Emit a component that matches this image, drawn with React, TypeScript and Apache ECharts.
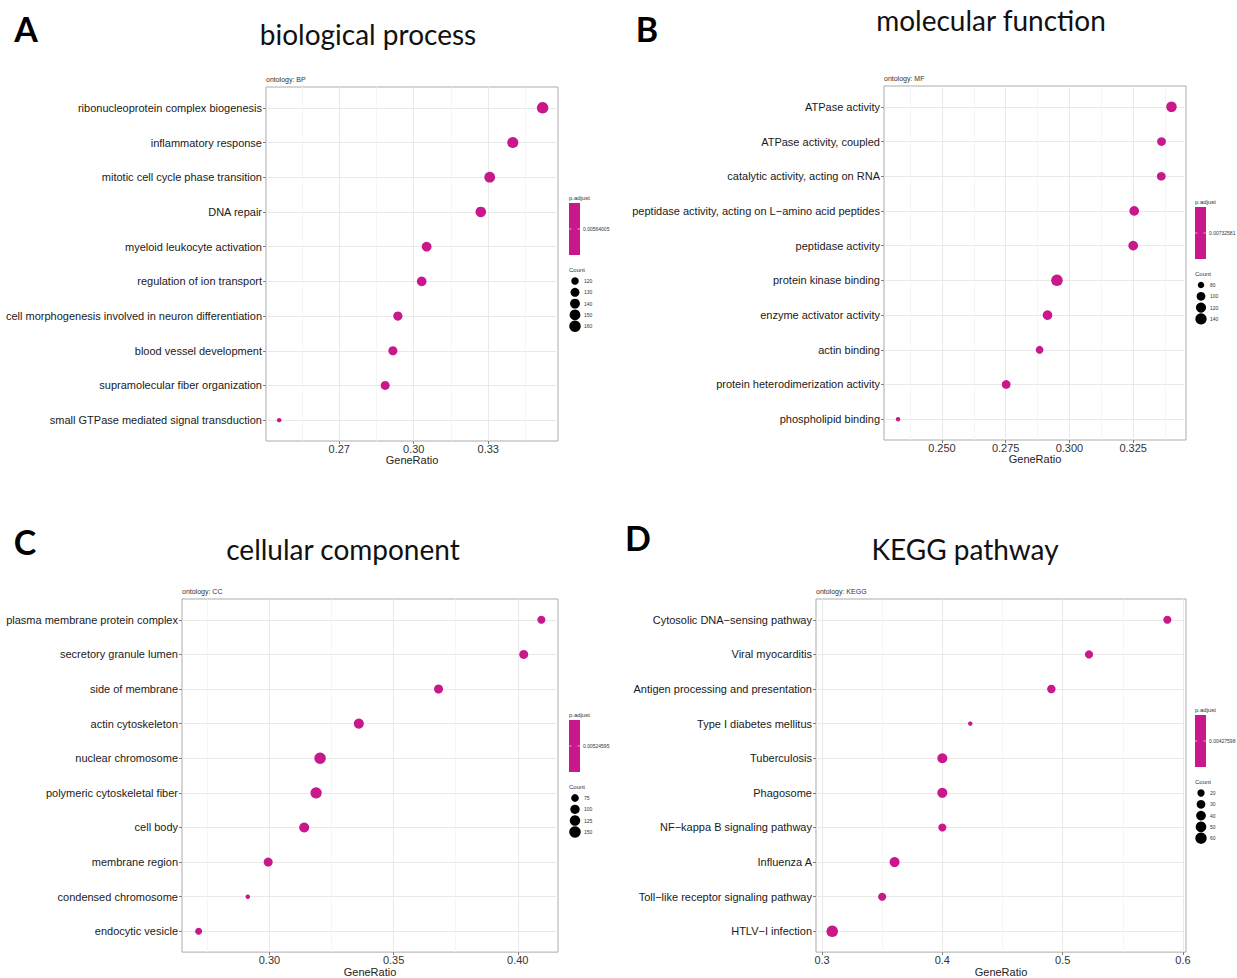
import React, { useEffect, useRef } from 'react';
import * as echarts from 'echarts';

// ---------- data ----------
const bpTerms = [
  'ribonucleoprotein complex biogenesis',
  'inflammatory response',
  'mitotic cell cycle phase transition',
  'DNA repair',
  'myeloid leukocyte activation',
  'regulation of ion transport',
  'cell morphogenesis involved in neuron differentiation',
  'blood vessel development',
  'supramolecular fiber organization',
  'small GTPase mediated signal transduction',
];
const bpRatio = [0.3519, 0.3399, 0.3306, 0.3270, 0.3052, 0.3032, 0.2936, 0.2916, 0.2885, 0.2458];
const bpCount = [160, 154, 150, 148, 139, 138, 133, 132, 131, 111];
const bpCountBreaks = [120, 130, 140, 150, 160];
const bpTicks = [0.27, 0.30, 0.33];

const mfTerms = [
  'ATPase activity',
  'ATPase activity, coupled',
  'catalytic activity, acting on RNA',
  'peptidase activity, acting on L\u2212amino acid peptides',
  'peptidase activity',
  'protein kinase binding',
  'enzyme activator activity',
  'actin binding',
  'protein heterodimerization activity',
  'phospholipid binding',
];
const mfRatio = [0.3400, 0.3361, 0.3360, 0.3254, 0.3250, 0.2951, 0.2914, 0.2883, 0.2752, 0.2328];
const mfCount = [128, 100, 100, 113, 113, 146, 113, 90, 100, 74];
const mfCountBreaks = [80, 100, 120, 140];
const mfTicks = [0.25, 0.275, 0.3, 0.325];

const ccTerms = [
  'plasma membrane protein complex',
  'secretory granule lumen',
  'side of membrane',
  'actin cytoskeleton',
  'nuclear chromosome',
  'polymeric cytoskeletal fiber',
  'cell body',
  'membrane region',
  'condensed chromosome',
  'endocytic vesicle',
];
const ccRatio = [0.4095, 0.4024, 0.3681, 0.3360, 0.3204, 0.3188, 0.3140, 0.2995, 0.2913, 0.2715];
const ccCount = [79, 94, 94, 114, 150, 143, 114, 94, 55, 67];
const ccCountBreaks = [75, 100, 125, 150];
const ccTicks = [0.30, 0.35, 0.40];

const keggTerms = [
  'Cytosolic DNA\u2212sensing pathway',
  'Viral myocarditis',
  'Antigen processing and presentation',
  'Type I diabetes mellitus',
  'Tuberculosis',
  'Phagosome',
  'NF\u2212kappa B signaling pathway',
  'Influenza A',
  'Toll\u2212like receptor signaling pathway',
  'HTLV\u2212I infection',
];
const keggRatio = [0.5870, 0.5219, 0.4906, 0.4232, 0.4000, 0.4000, 0.4000, 0.3603, 0.3500, 0.3085];
const keggCount = [25, 25, 28, 12, 43, 43, 25, 43, 25, 62];
const keggCountBreaks = [20, 30, 40, 50, 60];
const keggTicks = [0.3, 0.4, 0.5, 0.6];

const padjLabels = ['0.00564005', '0.00732581', '0.00524595', '0.00427598'];

// ---------- styling / layout ----------
const COLOR = '#C8188C';
const FONT = '"Liberation Sans", Arial, Helvetica, sans-serif';
const TITLE_FONT = 'Lato, "Open Sans", sans-serif';

const panels = [
  {
    letter: 'A', title: 'biological process', ontology: 'ontology: BP',
    terms: bpTerms, ratio: bpRatio, count: bpCount, breaks: bpCountBreaks, ticks: bpTicks,
    xMin: 0.2405, xMax: 0.3581, dec: 2,
    grid: { left: 266, top: 87, width: 292, height: 354 },
    titlePos: [368, 34], letterPos: [26, 28], legend: [569, 198], padj: padjLabels[0],
  },
  {
    letter: 'B', title: 'molecular function', ontology: 'ontology: MF',
    terms: mfTerms, ratio: mfRatio, count: mfCount, breaks: mfCountBreaks, ticks: mfTicks,
    xMin: 0.2273, xMax: 0.3457, dec: 3,
    grid: { left: 884, top: 86, width: 302, height: 354 },
    titlePos: [991, 20], letterPos: [647, 28], legend: [1195, 202], padj: padjLabels[1],
  },
  {
    letter: 'C', title: 'cellular component', ontology: 'ontology: CC',
    terms: ccTerms, ratio: ccRatio, count: ccCount, breaks: ccCountBreaks, ticks: ccTicks,
    xMin: 0.2648, xMax: 0.4162, dec: 2,
    grid: { left: 182, top: 599, width: 376, height: 354 },
    titlePos: [343, 549], letterPos: [25, 541], legend: [569, 715], padj: padjLabels[2],
  },
  {
    letter: 'D', title: 'KEGG pathway', ontology: 'ontology: KEGG',
    terms: keggTerms, ratio: keggRatio, count: keggCount, breaks: keggCountBreaks, ticks: keggTicks,
    xMin: 0.295, xMax: 0.6025, dec: 1,
    grid: { left: 816, top: 599, width: 370, height: 354 },
    titlePos: [965, 549], letterPos: [638, 537], legend: [1195, 710], padj: padjLabels[3],
  },
];

function makeSizeFn(counts: number[]) {
  const cmin = Math.min(...counts);
  const cmax = Math.max(...counts);
  return (c: number) => {
    const t = Math.max(0, Math.min(1, (c - cmin) / (cmax - cmin)));
    return 4.5 + 7 * Math.sqrt(t);
  };
}

// minor grid positions: half-way between the major ticks, extended over the range
function minorValues(ticks: number[], lo: number, hi: number) {
  const step = ticks[1] - ticks[0];
  const out: number[] = [];
  for (let k = -5; k < ticks.length + 5; k++) {
    const v = +(ticks[0] - step / 2 + k * step).toFixed(6);
    if (v > lo && v < hi) out.push(v);
  }
  return out;
}

function buildOption() {
  const grid: any[] = [];
  const xAxis: any[] = [];
  const yAxis: any[] = [];
  const series: any[] = [];
  const graphic: any[] = [];

  panels.forEach((p, i) => {
    const sizeFn = makeSizeFn(p.count);
    grid.push({
      ...p.grid,
      show: true,
      borderColor: '#ababab',
      borderWidth: 1,
      backgroundColor: '#ffffff',
      containLabel: false,
    });
    // main x axis (major grid, ticks, labels)
    xAxis.push({
      gridIndex: i,
      type: 'value',
      position: 'bottom',
      min: p.xMin,
      max: p.xMax,
      axisLine: { show: false, onZero: false },
      axisTick: { show: true, customValues: p.ticks, length: 3, lineStyle: { color: '#7f7f7f' } },
      axisLabel: {
        customValues: p.ticks,
        formatter: (v: number) => v.toFixed(p.dec),
        fontSize: 11, color: '#333', fontFamily: FONT, margin: 2,
      },
      splitLine: { show: true, lineStyle: { color: '#e9e9e9', width: 1 } },
      name: 'GeneRatio',
      nameLocation: 'middle',
      nameGap: 11,
      nameTextStyle: { fontSize: 11, color: '#222', fontFamily: FONT },
      z: 1,
    });
    yAxis.push({
      gridIndex: i,
      type: 'value',
      min: -0.6,
      max: 9.6,
      inverse: true,
      minInterval: 1,
      maxInterval: 1,
      axisLine: { show: false, onZero: false },
      axisTick: { show: true, customValues: p.terms.map((_, k) => k), length: 3, lineStyle: { color: '#7f7f7f' } },
      axisLabel: {
        customValues: p.terms.map((_, k) => k),
        formatter: (v: number) => {
          const k = Math.round(v);
          return Math.abs(v - k) < 1e-6 && p.terms[k] ? p.terms[k] : '';
        },
        fontSize: 11, color: '#1a1a1a', fontFamily: FONT, margin: 4,
      },
      splitLine: { show: true, lineStyle: { color: '#e9e9e9', width: 1 } },
    });
    series.push({
      type: 'scatter',
      xAxisIndex: i,
      yAxisIndex: i,
      data: p.terms.map((t, k) => [p.ratio[k], k, p.count[k], t]),
      symbolSize: (val: number[]) => sizeFn(val[2]),
      itemStyle: { color: COLOR, opacity: 1 },
      emphasis: { disabled: true },
      z: 5,
    });
  });

  // secondary (hidden) x axes: minor grid lines only
  panels.forEach((p, i) => {
    const minors = minorValues(p.ticks, p.xMin, p.xMax);
    xAxis.push({
      gridIndex: i,
      type: 'value',
      position: 'top',
      min: p.xMin,
      max: p.xMax,
      axisLine: { show: false, onZero: false },
      axisTick: { show: false, customValues: minors },
      axisLabel: { show: false, customValues: minors },
      splitLine: { show: true, lineStyle: { color: '#f2f2f2', width: 0.8 } },
      z: 0,
    });
  });

  panels.forEach((p) => {
    const sizeFn = makeSizeFn(p.count);
    // titles and panel letters
    graphic.push({
      type: 'text', x: p.titlePos[0], y: p.titlePos[1],
      style: { text: p.title, font: `28px ${TITLE_FONT}`, fill: '#111', align: 'center', verticalAlign: 'middle' },
    });
    graphic.push({
      type: 'text', x: p.letterPos[0], y: p.letterPos[1],
      style: { text: p.letter, font: `bold 34px ${TITLE_FONT}`, fill: '#000', align: 'center', verticalAlign: 'middle' },
    });
    graphic.push({
      type: 'text', x: p.grid.left, y: p.grid.top - 8,
      style: { text: p.ontology, font: `7px ${FONT}`, fill: '#333', align: 'left', verticalAlign: 'middle' },
    });

    // legend
    const [lx, ly] = p.legend;
    graphic.push({
      type: 'text', x: lx, y: ly,
      style: { text: 'p.adjust', font: `6px ${FONT}`, fill: '#333', align: 'left', verticalAlign: 'middle' },
    });
    graphic.push({
      type: 'rect', shape: { x: lx, y: ly + 5, width: 11, height: 52 },
      style: { fill: COLOR },
    });
    graphic.push({
      type: 'line', shape: { x1: lx, y1: ly + 31, x2: lx + 2.5, y2: ly + 31 },
      style: { stroke: '#ffffff', lineWidth: 0.6 },
    });
    graphic.push({
      type: 'line', shape: { x1: lx + 8.5, y1: ly + 31, x2: lx + 11, y2: ly + 31 },
      style: { stroke: '#ffffff', lineWidth: 0.6 },
    });
    graphic.push({
      type: 'text', x: lx + 14, y: ly + 31,
      style: { text: p.padj, font: `5px ${FONT}`, fill: '#333', align: 'left', verticalAlign: 'middle' },
    });
    graphic.push({
      type: 'text', x: lx, y: ly + 72,
      style: { text: 'Count', font: `6px ${FONT}`, fill: '#333', align: 'left', verticalAlign: 'middle' },
    });
    p.breaks.forEach((b, k) => {
      const cy = ly + 83 + k * 11.3;
      graphic.push({
        type: 'circle', shape: { cx: lx + 6, cy, r: sizeFn(b) / 2 },
        style: { fill: '#000' },
      });
      graphic.push({
        type: 'text', x: lx + 15, y: cy,
        style: { text: String(b), font: `5px ${FONT}`, fill: '#333', align: 'left', verticalAlign: 'middle' },
      });
    });
  });

  return {
    animation: false,
    backgroundColor: '#ffffff',
    grid, xAxis, yAxis, series, graphic,
  };
}

export default function App() {
  const ref = useRef<HTMLDivElement>(null);
  useEffect(() => {
    if (!ref.current) return;
    const chart = echarts.init(ref.current, undefined, { renderer: 'svg' });
    chart.setOption(buildOption() as any);
    return () => chart.dispose();
  }, []);
  return (
    <div
      ref={ref}
      style={{ position: 'fixed', left: 0, top: 0, width: 1237, height: 978, background: '#fff' }}
    />
  );
}
